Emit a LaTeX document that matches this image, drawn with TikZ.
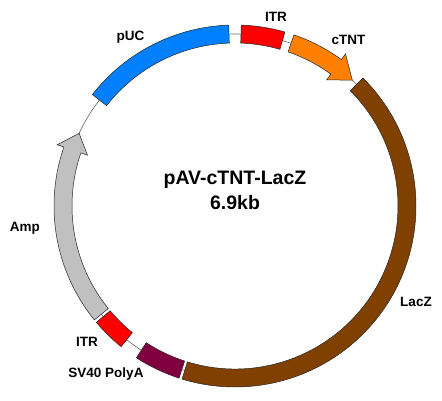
\documentclass[tikz,border=0pt]{standalone}
\usepackage{fontspec}
\setmainfont{Liberation Sans}
\usetikzlibrary{positioning}

\definecolor{pucblue}{RGB}{0,128,255}
\definecolor{itrred}{RGB}{255,0,0}
\definecolor{tntorange}{RGB}{255,128,0}
\definecolor{lacbrown}{RGB}{128,64,0}
\definecolor{polyapurple}{RGB}{128,0,64}
\definecolor{ampgray}{RGB}{192,192,192}

\begin{document}
\begin{tikzpicture}[x=1pt, y=1pt]
\tikzstyle{band} = [draw = black!85, line width = 0.5pt, line join = miter]
\tikzstyle{lbl} = [font = \fontsize{13.5}{15}\selectfont\bfseries, inner sep = 0pt]
\tikzstyle{head} = [font = \fontsize{19.5}{22}\selectfont\bfseries, inner sep = 0pt]
\useasboundingbox (-235,-195) rectangle (207,206);
% backbone
\draw[black!60, line width = 0.6pt] (0,0) circle (172);
% plain features: start/end/colour
\foreach \a/\b/\c in {142/92/pucblue, 88/74/itrred, 45/-107/lacbrown,
                      -108/-123/polyapurple, -129/-140/itrred}
  \draw[band, fill=\c] (\a:181) arc (\a:\b:181) -- (\b:163) arc (\b:\a:163) -- cycle;
% arrow features: start/head base/tip/colour
\foreach \a/\b/\t/\c in {71/54/47/tntorange, 219/161/155/ampgray}
  \draw[band, fill=\c] (\a:181) arc (\a:\b:181) -- (\b:188) -- (\t:172)
    -- (\b:156) -- (\b:163) arc (\b:\a:163) -- cycle;
% title
\node[head, anchor=base] (title) at (0,21) {pAV-cTNT-LacZ};
\node[head, below=25pt of title.base, anchor=base] (size) {6.9kb};
% labels
\node[lbl] (puc) at (-104.5,169) {pUC};
\node[lbl] (itrtop) at (41,189) {ITR};
\node[lbl] (ctnt) at (113.5,166) {cTNT};
\node[lbl] (lacz) at (181,-96) {LacZ};
\node[lbl] (polya) at (-129,-168) {SV40 PolyA};
\node[lbl] (itrbot) at (-148,-136) {ITR};
\node[lbl] (amp) at (-210,-22) {Amp};
\end{tikzpicture}
\end{document}
